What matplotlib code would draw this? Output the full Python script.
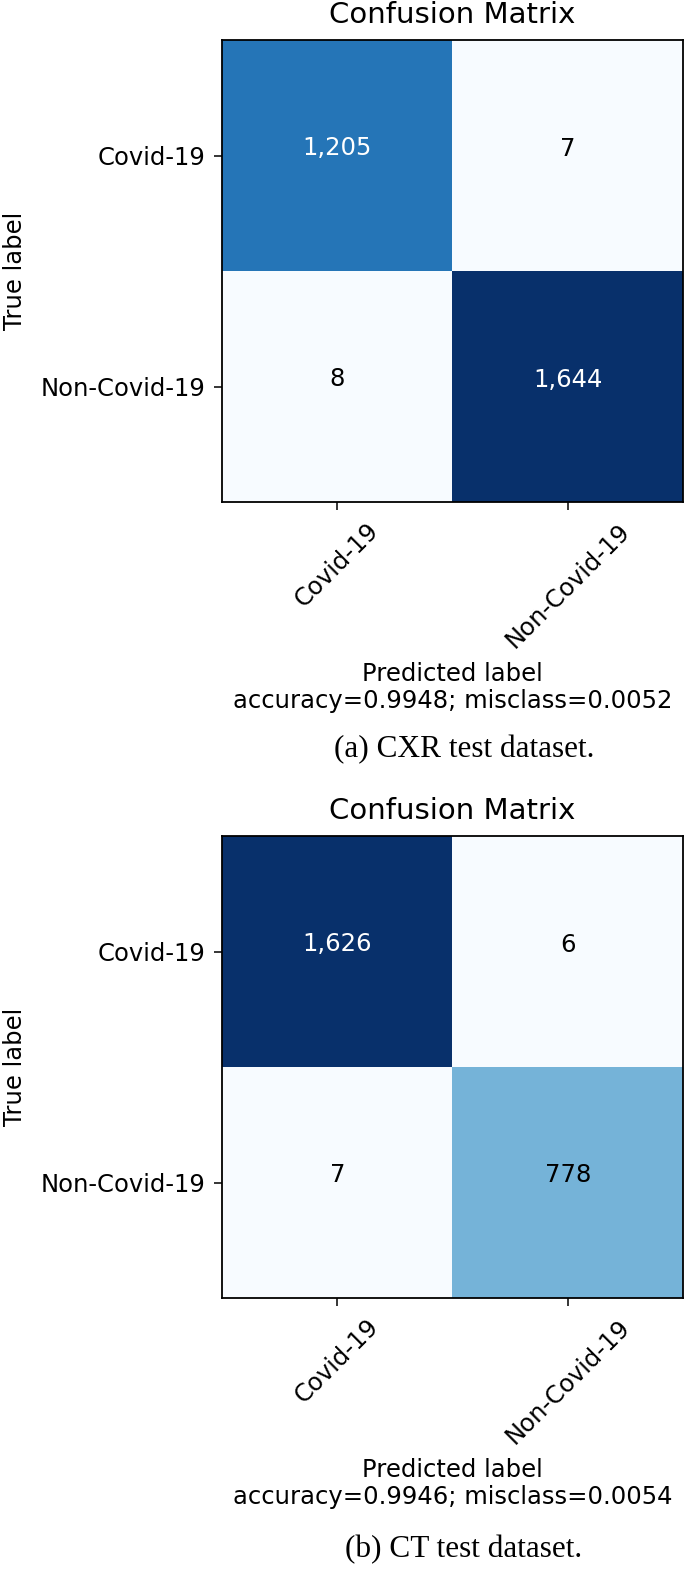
import numpy as np
import matplotlib.pyplot as plt

# class names and confusion matrices
target_names = ["Covid-19", "Non-Covid-19"]
cm_cxr = np.array([[1205, 7],
                   [8, 1644]])
cm_ct = np.array([[1626, 6],
                  [7, 778]])
captions = ["(a) CXR test dataset.", "(b) CT test dataset."]

W, H = 685, 1569
fig = plt.figure(figsize=(W / 100, H / 100), dpi=100)

FS = 17.5


def plot_confusion_matrix(ax, cm):
    accuracy = np.trace(cm) / float(np.sum(cm))
    misclass = 1 - accuracy
    ax.imshow(cm, interpolation="nearest", cmap=plt.get_cmap("Blues"), aspect="auto")
    ax.set_title("Confusion Matrix", fontsize=21, pad=12)
    tick_marks = np.arange(len(target_names))
    ax.set_xticks(tick_marks)
    ax.set_xticklabels(target_names, rotation=45, fontsize=FS)
    ax.set_yticks(tick_marks)
    ax.set_yticklabels(target_names, fontsize=FS)
    ax.tick_params(length=6, pad=6, width=1.1)
    thresh = cm.max() / 2
    for i in range(cm.shape[0]):
        for j in range(cm.shape[1]):
            # default baseline alignment like the original script
            ax.text(j, i, "{:,}".format(cm[i, j]), ha="center",
                    fontsize=FS, color="white" if cm[i, j] > thresh else "black")
    ax.set_ylabel("True label", fontsize=FS)
    ax.yaxis.set_label_coords(-(222 - 27) / 461, 0.5)
    ax.set_xlabel("Predicted label\naccuracy={:0.4f}; misclass={:0.4f}".format(accuracy, misclass),
                  fontsize=FS, linespacing=1.15)
    ax.xaxis.set_label_coords(0.5, -(662 - 502) / 462)
    for s in ax.spines.values():
        s.set_linewidth(1.3)


# axes boxes in pixels: (left, top, right, bottom)
boxes = [(222, 40, 683, 502), (222, 836, 683, 1298)]
cap_y = [750, 1550]
for cm, box, cap, cy in zip([cm_cxr, cm_ct], boxes, captions, cap_y):
    l, t, r, b = box
    ax = fig.add_axes([l / W, 1 - b / H, (r - l) / W, (b - t) / H])
    plot_confusion_matrix(ax, cm)
    fig.text(464 / W, 1 - cy / H, cap, ha="center", va="center",
             family="Liberation Serif", fontsize=22.5)

fig.savefig("out.png", dpi=100)
